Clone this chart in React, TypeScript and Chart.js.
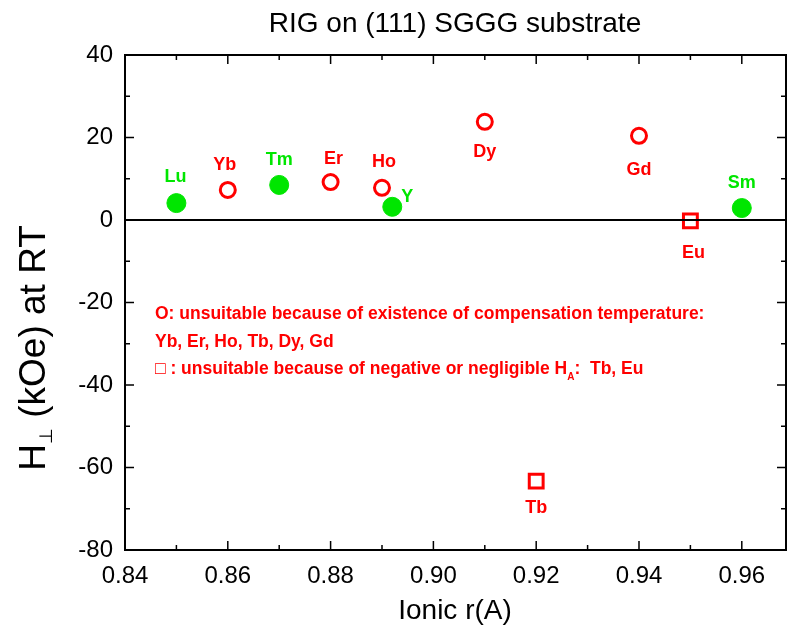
import React, { useEffect, useRef } from "react";
import { Chart, registerables } from "chart.js";

Chart.register(...registerables);

const greenNames = ["Lu", "Tm", "Y", "Sm"];
const greenX = [0.85, 0.87, 0.892, 0.96];
const greenY = [4.1, 8.5, 3.2, 2.9];

const circleNames = ["Yb", "Er", "Ho", "Dy", "Gd"];
const circleX = [0.86, 0.88, 0.89, 0.91, 0.94];
const circleY = [7.3, 9.2, 7.8, 23.8, 20.4];

const squareNames = ["Eu", "Tb"];
const squareX = [0.95, 0.92];
const squareY = [-0.2, -63.3];

const xTicks = [0.84, 0.86, 0.88, 0.9, 0.92, 0.94, 0.96];
const yTicks = [-80, -60, -40, -20, 0, 20, 40];

const titleText = "RIG on (111) SGGG substrate";
const xTitle = "Ionic r(A)";
const noteLine1 = "O: unsuitable because of existence of compensation temperature:";
const noteLine2 = "Yb, Er, Ho, Tb, Dy, Gd";
const noteLine3a = "\u25A1 : unsuitable because of negative or negligible H";
const noteLine3b = "A";
const noteLine3c = ":  Tb, Eu";

const RED = "#ff0000";
const GREEN = "#00e600";
const FONT = "'Liberation Sans', Arial, sans-serif";

// label placement per element name: dx, dy, align
const placement: Record<string, [number, number, string]> = {
  Lu: [-1, -26, "center"],
  Tm: [0, -25, "center"],
  Y: [9, -10, "left"],
  Sm: [0, -25, "center"],
  Yb: [-3, -25, "center"],
  Er: [3, -23, "center"],
  Ho: [2, -26, "center"],
  Dy: [0, 30, "center"],
  Gd: [0, 34, "center"],
  Eu: [3, 32, "center"],
  Tb: [0, 27, "center"],
};

const overlay = {
  id: "overlay",
  afterDraw(chart: any) {
    const ctx = chart.ctx;
    const xs = chart.scales.x;
    const ys = chart.scales.y;
    const a = chart.chartArea;
    ctx.save();
    // zero line
    const y0 = ys.getPixelForValue(0);
    ctx.strokeStyle = "#000";
    ctx.lineWidth = 2;
    ctx.beginPath();
    ctx.moveTo(a.left, y0);
    ctx.lineTo(a.right, y0);
    ctx.stroke();
    // frame
    ctx.lineWidth = 2;
    ctx.strokeRect(a.left, a.top, a.right - a.left, a.bottom - a.top);
    // ticks
    ctx.lineWidth = 1.5;
    for (let i = 0; ; i++) {
      const v = 0.84 + i * 0.01;
      if (v > xs.max + 1e-9) break;
      const px = xs.getPixelForValue(v);
      const len = i % 2 === 0 ? 9 : 5;
      ctx.beginPath();
      ctx.moveTo(px, a.bottom);
      ctx.lineTo(px, a.bottom - len);
      ctx.moveTo(px, a.top);
      ctx.lineTo(px, a.top + len);
      ctx.stroke();
    }
    for (let i = 0; ; i++) {
      const v = -80 + i * 10;
      if (v > ys.max + 1e-9) break;
      const py = ys.getPixelForValue(v);
      const len = i % 2 === 0 ? 9 : 5;
      ctx.beginPath();
      ctx.moveTo(a.left, py);
      ctx.lineTo(a.left + len, py);
      ctx.moveTo(a.right, py);
      ctx.lineTo(a.right - len, py);
      ctx.stroke();
    }
    // point labels
    ctx.font = `bold 18px ${FONT}`;
    ctx.textBaseline = "middle";
    const drawLabels = (names: string[], xv: number[], yv: number[], color: string) => {
      ctx.fillStyle = color;
      names.forEach((n, i) => {
        const p = placement[n];
        ctx.textAlign = p[2];
        ctx.fillText(n, xs.getPixelForValue(xv[i]) + p[0], ys.getPixelForValue(yv[i]) + p[1]);
      });
    };
    drawLabels(greenNames, greenX, greenY, GREEN);
    drawLabels(circleNames, circleX, circleY, RED);
    drawLabels(squareNames, squareX, squareY, RED);

    // notes
    ctx.fillStyle = RED;
    ctx.textAlign = "left";
    ctx.textBaseline = "alphabetic";
    ctx.font = `bold 17.5px ${FONT}`;
    ctx.fillText(noteLine1, 155, 319);
    ctx.fillText(noteLine2, 155, 347);
    let x = 155;
    ctx.fillText(noteLine3a, x, 374);
    x += ctx.measureText(noteLine3a).width;
    ctx.font = `bold 10px ${FONT}`;
    ctx.fillText(noteLine3b, x, 380);
    x += ctx.measureText(noteLine3b).width;
    ctx.font = `bold 17.5px ${FONT}`;
    ctx.fillText(noteLine3c, x, 374);

    // title
    ctx.fillStyle = "#000";
    ctx.textAlign = "center";
    ctx.font = `28px ${FONT}`;
    ctx.fillText(titleText, 455, 32);
    // x title
    ctx.font = `28px ${FONT}`;
    ctx.fillText(xTitle, 455, 619);
    // y title
    ctx.translate(45, 348);
    ctx.rotate(-Math.PI / 2);
    ctx.textAlign = "left";
    const big = `37px ${FONT}`;
    const small = `18px ${FONT}`;
    ctx.font = big;
    const wH = ctx.measureText("H").width;
    ctx.font = small;
    const wS = ctx.measureText("\u22A5").width;
    ctx.font = big;
    const rest = " (kOe) at RT";
    const wR = ctx.measureText(rest).width;
    let sx = -(wH + wS + wR) / 2;
    ctx.fillText("H", sx, 0);
    sx += wH;
    ctx.font = small;
    ctx.fillText("\u22A5", sx, 7);
    sx += wS;
    ctx.font = big;
    ctx.fillText(rest, sx, 0);
    ctx.restore();
  },
};

export default function App() {
  const ref = useRef<HTMLCanvasElement>(null);
  useEffect(() => {
    if (!ref.current) return;
    const toPts = (xv: number[], yv: number[]) => xv.map((x, i) => ({ x, y: yv[i] }));
    const chart = new Chart(ref.current, {
      type: "scatter",
      data: {
        datasets: [
          {
            label: "suitable",
            data: toPts(greenX, greenY),
            pointStyle: "circle",
            pointRadius: 9.5,
            backgroundColor: GREEN,
            borderColor: GREEN,
            borderWidth: 1,
          },
          {
            label: "compensation",
            data: toPts(circleX, circleY),
            pointStyle: "circle",
            pointRadius: 7.5,
            backgroundColor: "rgba(255,255,255,0)",
            borderColor: RED,
            borderWidth: 3,
          },
          {
            label: "negative",
            data: toPts(squareX, squareY),
            pointStyle: "rect",
            pointRadius: 9.8,
            backgroundColor: "rgba(255,255,255,0)",
            borderColor: RED,
            borderWidth: 3,
          },
        ],
      },
      options: {
        animation: false,
        responsive: false,
        maintainAspectRatio: false,
        layout: { autoPadding: false, padding: { top: 55, right: 1, left: 0, bottom: 0 } },
        plugins: { legend: { display: false }, tooltip: { enabled: false }, title: { display: false } },
        scales: {
          x: {
            type: "linear",
            min: 0.84,
            max: 0.9686,
            grid: { display: false, drawTicks: false },
            border: { display: false },
            afterFit: (s: any) => { s.height = 85; s.paddingLeft = 0; s.paddingRight = 0; },
            afterBuildTicks: (s: any) => { s.ticks = xTicks.map((v) => ({ value: v })); },
            ticks: {
              padding: 12,
              color: "#000",
              font: { family: FONT, size: 24 },
              callback: (v: any) => Number(v).toFixed(2),
              maxRotation: 0,
              autoSkip: false,
            },
          },
          y: {
            type: "linear",
            min: -80,
            max: 40,
            grid: { display: false, drawTicks: false },
            border: { display: false },
            afterFit: (s: any) => { s.width = 125; s.paddingTop = 0; s.paddingBottom = 0; },
            afterBuildTicks: (s: any) => { s.ticks = yTicks.map((v) => ({ value: v })); },
            ticks: {
              padding: 12,
              color: "#000",
              font: { family: FONT, size: 24 },
              callback: (v: any) => String(v),
            },
          },
        },
      },
      plugins: [overlay],
    });
    return () => chart.destroy();
  }, []);
  return (
    <div style={{ position: "absolute", left: 0, top: 0, width: 787, height: 635, background: "#fff" }}>
      <canvas ref={ref} width={787} height={635} style={{ display: "block" }} />
    </div>
  );
}
